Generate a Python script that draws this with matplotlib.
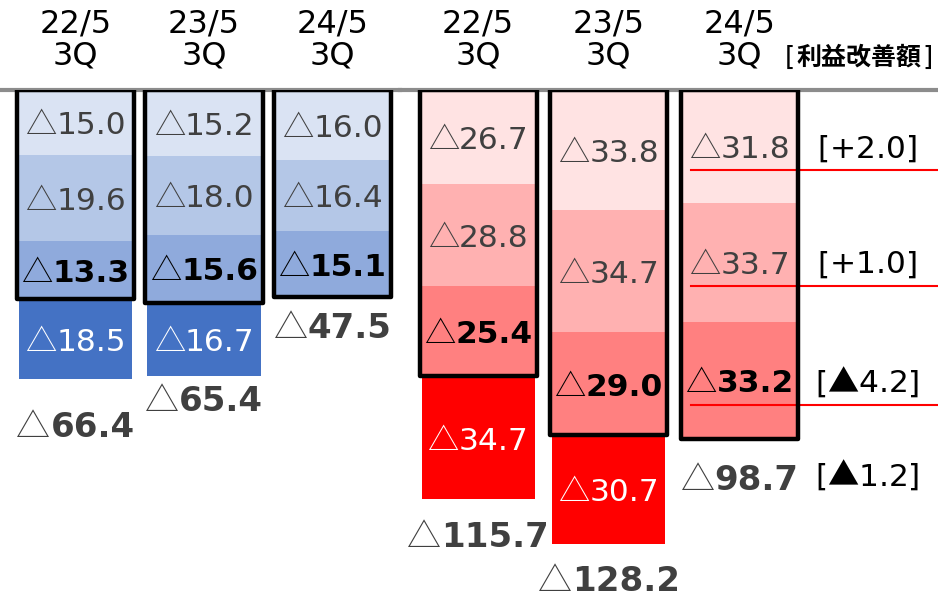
import matplotlib
matplotlib.use("Agg")
import matplotlib.pyplot as plt
import numpy as np
from matplotlib.offsetbox import TextArea, HPacker, AnnotationBbox
from matplotlib.transforms import blended_transform_factory

# ---------------- data ----------------
periods = ["22/5", "23/5", "24/5"]
quarter = "3Q"

blue_seg1 = [15.0, 15.2, 16.0]
blue_seg2 = [19.6, 18.0, 16.4]
blue_seg3 = [13.3, 15.6, 15.1]
blue_seg4 = [18.5, 16.7, 0.0]
blue_total = [66.4, 65.4, 47.5]

red_seg1 = [26.7, 33.8, 31.8]
red_seg2 = [28.8, 34.7, 33.7]
red_seg3 = [25.4, 29.0, 33.2]
red_seg4 = [34.7, 30.7, 0.0]
red_total = [115.7, 128.2, 98.7]

improvements = ["+2.0", "+1.0", "▲4.2", "▲1.2"]
unit_label = "利益改善額"

# ---------------- style ----------------
blue_colors = ["#DAE3F3", "#B4C7E7", "#8FAADC", "#4472C4"]
red_colors = ["#FFE3E3", "#FFB1B1", "#FF8080", "#FF0000"]
txt_colors = ["#404040", "#404040", "#000000", "#FFFFFF"]
bold_flags = [False, False, True, False]
GRAY = "#404040"
LBL = 22.5
TOT = 24.5
TRI_FONT = ["Noto Sans CJK JP", "DejaVu Sans"]

W, H = 938, 600
fig = plt.figure(figsize=(W / 100, H / 100), dpi=100)
top_px = 90
ax_b = fig.add_axes([0, 0, 400 / W, (H - top_px) / H])
ax_r = fig.add_axes([400 / W, 0, 538 / W, (H - top_px) / H])
ax_b.set_xlim(-0.5875, 2.525)
ax_b.set_ylim(117.0, 0)
ax_r.set_xlim(-0.597, 3.518)
ax_r.set_ylim(144.1, 0)
for a in (ax_b, ax_r):
    a.axis("off")


def tri_label(ax, x, y, value, color, bold, size, dy=0):
    tri = TextArea("△", textprops=dict(color=color, fontsize=size, fontweight="light",
                                       family=TRI_FONT))
    num = TextArea(f"{value:.1f}", textprops=dict(color=color, fontsize=size,
                                                  fontweight="bold" if bold else "normal",
                                                  family="DejaVu Sans"))
    box = HPacker(children=[tri, num], pad=0, sep=0, align="baseline")
    ab = AnnotationBbox(box, (x, y), xycoords="data", xybox=(0, -dy),
                        boxcoords="offset points", frameon=False,
                        box_alignment=(0.5, 0.5), pad=0, zorder=5,
                        annotation_clip=False)
    ax.add_artist(ab)


def draw_group(ax, segs, colors, totals, width, total_off):
    x = np.arange(len(segs[0]))
    bottom = np.zeros(len(x))
    for k, vals in enumerate(segs):
        vals = np.array(vals)
        ax.bar(x, vals, width, bottom=bottom, color=colors[k], linewidth=0, zorder=1)
        for i, v in enumerate(vals):
            if v > 0:
                tri_label(ax, x[i], bottom[i] + v / 2, v, txt_colors[k], bold_flags[k], LBL, dy=2)
        bottom = bottom + vals
    boxh = np.array(segs[0]) + np.array(segs[1]) + np.array(segs[2])
    ax.bar(x, boxh, width * 1.035, fill=False, edgecolor="black", linewidth=3.2,
           joinstyle="round", zorder=4)
    for i, t in enumerate(totals):
        tri_label(ax, x[i], t, t, GRAY, True, TOT, dy=total_off[i])
    return x


xb = draw_group(ax_b, [blue_seg1, blue_seg2, blue_seg3, blue_seg4], blue_colors,
                blue_total, 0.88, [34, 19, 22])
xr = draw_group(ax_r, [red_seg1, red_seg2, red_seg3, red_seg4], red_colors,
                red_total, 0.864, [27, 27, 29])

# baseline
for a in (ax_b, ax_r):
    a.axhline(0, color="#8C8C8C", linewidth=3.0, zorder=3, clip_on=False)

# headers
for a, xs in ((ax_b, xb), (ax_r, xr)):
    tr = blended_transform_factory(a.transData, fig.transFigure)
    for i, p in enumerate(periods):
        a.text(xs[i], 1 - 32 / H, p, transform=tr, ha="center", va="baseline",
               fontsize=23, color="black")
        a.text(xs[i], 1 - 65 / H, quarter, transform=tr, ha="center", va="baseline",
               fontsize=23, color="black")

# unit label
ul = HPacker(children=[
    TextArea("[", textprops=dict(fontsize=19, color="black", family="DejaVu Sans")),
    TextArea(unit_label, textprops=dict(fontsize=18, color="black", fontweight="bold",
                                        family="Noto Sans CJK JP")),
    TextArea("]", textprops=dict(fontsize=19, color="black", family="DejaVu Sans")),
], pad=0, sep=1, align="center")
fig.add_artist(AnnotationBbox(ul, (859 / W, 1 - 58 / H), xycoords="figure fraction",
                              frameon=False, box_alignment=(0.5, 0.5), pad=0))


def bracket_label(ax, x, y, text, dy):
    parts = []
    for ch in "[" + text + "]":
        fam = TRI_FONT if ch == "▲" else "DejaVu Sans"
        parts.append(TextArea(ch, textprops=dict(fontsize=LBL, color="black", family=fam)))
    box = HPacker(children=parts, pad=0, sep=0, align="baseline")
    ax.add_artist(AnnotationBbox(box, (x, y), xycoords="data", xybox=(0, -dy),
                                 boxcoords="offset points", frameon=False,
                                 box_alignment=(0.5, 0.5), pad=0, zorder=5,
                                 annotation_clip=False))


# improvement annotations for latest red bar
i3 = 2
centers = np.cumsum([0, red_seg1[i3], red_seg2[i3]]) + np.array(
    [red_seg1[i3], red_seg2[i3], red_seg3[i3]]) / 2
line_x0 = xr[i3] - 0.864 / 2 + 0.06
for c, imp in zip(centers, improvements[:3]):
    ax_r.plot([line_x0, ax_r.get_xlim()[1]], [c + 6.8, c + 6.8], color="#FF0000",
              linewidth=1.5, zorder=3, clip_on=False)
    bracket_label(ax_r, 2.98, c, imp, 2)
bracket_label(ax_r, 2.98, red_total[i3], improvements[3], 27)

fig.savefig("out.png", dpi=100)
